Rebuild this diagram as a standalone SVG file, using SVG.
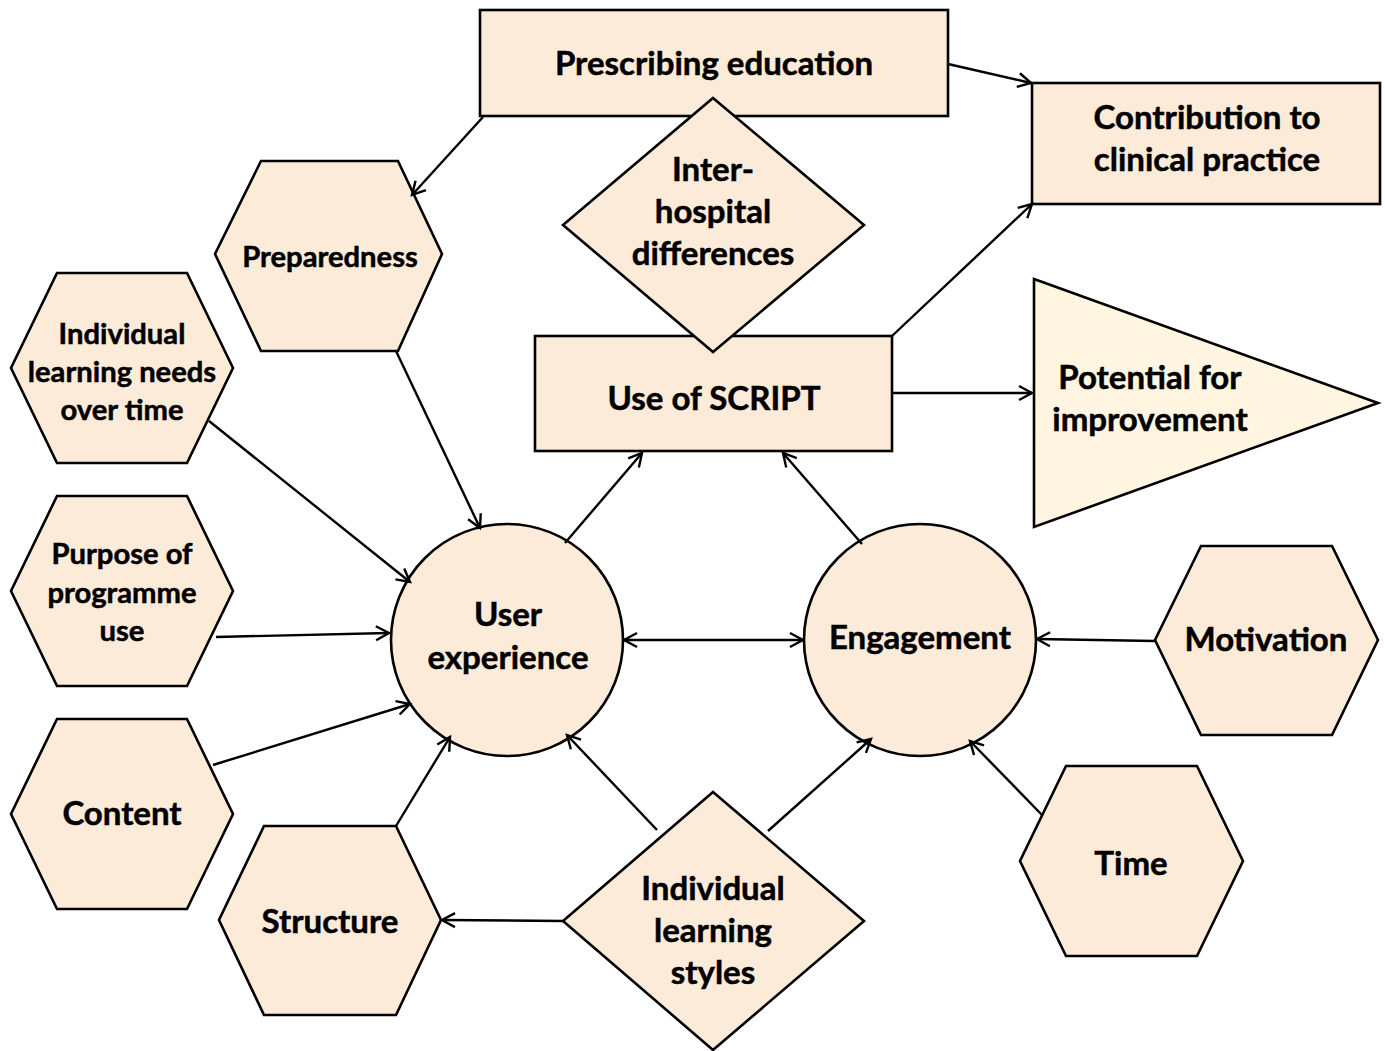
<svg xmlns="http://www.w3.org/2000/svg" width="1385" height="1051" viewBox="0 0 1385 1051">
<style>
.n{fill:#FCEBD9;stroke:#000;stroke-width:2.6;stroke-linejoin:miter}
.tri{fill:#FFF5E1;stroke:#000;stroke-width:2.6}
.t{font-family:Lato,"Open Sans","Liberation Sans",sans-serif;font-weight:bold;font-size:33px;fill:#000;stroke:#000;stroke-width:0.5;text-anchor:middle;dominant-baseline:central}
.s{font-size:29.2px}
.c line{stroke:#000;stroke-width:2.4}
</style>
<defs>
<marker id="a" markerUnits="userSpaceOnUse" markerWidth="18" markerHeight="18" refX="15" refY="8" orient="auto-start-reverse" viewBox="0 0 18 16">
<path d="M2,1 L15,8 L2,15" fill="none" stroke="#000" stroke-width="2.4"/>
</marker>
</defs>
<rect width="1385" height="1051" fill="#fff"/>
<g id="prescribing-education">
<rect class="n" x="480" y="10" width="468" height="106"/>
<text class="t" x="714" y="62">Prescribing education</text>
</g>
<g id="contribution">
<rect class="n" x="1032" y="83" width="348" height="121"/>
<text class="t" x="1207" y="116">Contribution to</text>
<text class="t" x="1207" y="158">clinical practice</text>
</g>
<g id="use-of-script">
<rect class="n" x="535" y="336" width="357" height="115"/>
<text class="t" x="714" y="397" font-size="32.5">Use of SCRIPT</text>
</g>
<g id="inter-hospital">
<polygon class="n" points="713,98 864,225 713,352 563,225"/>
<text class="t" x="713" y="168">Inter-</text>
<text class="t" x="713" y="210">hospital</text>
<text class="t" x="713" y="252">differences</text>
</g>
<g id="potential">
<polygon class="tri" points="1034,279 1378,403 1034,527"/>
<text class="t" x="1150" y="376">Potential for</text>
<text class="t" x="1150" y="418">improvement</text>
</g>
<g id="preparedness">
<polygon class="n" points="261,161 398,161 442,254 398,351 261,351 215,254"/>
<text class="t s" x="330" y="255">Preparedness</text>
</g>
<g id="learning-needs">
<polygon class="n" points="57,273 187,273 233,368 187,463 57,463 11,368"/>
<text class="t s" x="122" y="332">Individual</text>
<text class="t s" x="122" y="370">learning needs</text>
<text class="t s" x="122" y="408">over time</text>
</g>
<g id="purpose">
<polygon class="n" points="57,496 187,496 233,591 187,686 57,686 11,591"/>
<text class="t s" x="122" y="552">Purpose of</text>
<text class="t s" x="122" y="591">programme</text>
<text class="t s" x="122" y="629">use</text>
</g>
<g id="content">
<polygon class="n" points="57,719 187,719 233,814 187,909 57,909 11,814"/>
<text class="t" x="122" y="812" font-size="45">Content</text>
</g>
<g id="structure">
<polygon class="n" points="264,826 396,826 441,920 396,1015 264,1015 219,920"/>
<text class="t" x="330" y="920">Structure</text>
</g>
<g id="learning-styles">
<polygon class="n" points="713,792 864,921 713,1050 563,921"/>
<text class="t" x="713" y="887">Individual</text>
<text class="t" x="713" y="929">learning</text>
<text class="t" x="713" y="971">styles</text>
</g>
<g id="user-experience">
<circle class="n" cx="507" cy="640" r="116"/>
<text class="t" x="508" y="613">User</text>
<text class="t" x="508" y="656">experience</text>
</g>
<g id="engagement">
<circle class="n" cx="920" cy="640" r="116"/>
<text class="t" x="920" y="636">Engagement</text>
</g>
<g id="motivation">
<polygon class="n" points="1201,546 1332,546 1378,640 1332,735 1201,735 1155,640"/>
<text class="t" x="1266" y="638">Motivation</text>
</g>
<g id="time">
<polygon class="n" points="1066,766 1197,766 1243,861 1197,956 1066,956 1020,861"/>
<text class="t" x="1131" y="862">Time</text>
</g>
<g id="connectors" class="c">
<line x1="948" y1="64" x2="1031" y2="83" marker-end="url(#a)"/>
<line x1="483" y1="117" x2="412" y2="195" marker-end="url(#a)"/>
<line x1="892" y1="336" x2="1032" y2="204" marker-end="url(#a)"/>
<line x1="893" y1="393" x2="1032" y2="393" marker-end="url(#a)"/>
<line x1="396" y1="351" x2="480" y2="528" marker-end="url(#a)"/>
<line x1="209" y1="421" x2="410" y2="582" marker-end="url(#a)"/>
<line x1="216" y1="637" x2="389" y2="633" marker-end="url(#a)"/>
<line x1="213" y1="765" x2="410" y2="704" marker-end="url(#a)"/>
<line x1="396" y1="826" x2="450" y2="737" marker-end="url(#a)"/>
<line x1="657" y1="830" x2="567" y2="735" marker-end="url(#a)"/>
<line x1="768" y1="831" x2="871" y2="739" marker-end="url(#a)"/>
<line x1="563" y1="921" x2="442" y2="920" marker-end="url(#a)"/>
<line x1="565" y1="543" x2="642" y2="453" marker-end="url(#a)"/>
<line x1="862" y1="544" x2="783" y2="453" marker-end="url(#a)"/>
<line x1="624" y1="640" x2="803" y2="640" marker-start="url(#a)" marker-end="url(#a)"/>
<line x1="1155" y1="641" x2="1037" y2="639" marker-end="url(#a)"/>
<line x1="1042" y1="815" x2="970" y2="741" marker-end="url(#a)"/>
</g>
</svg>
